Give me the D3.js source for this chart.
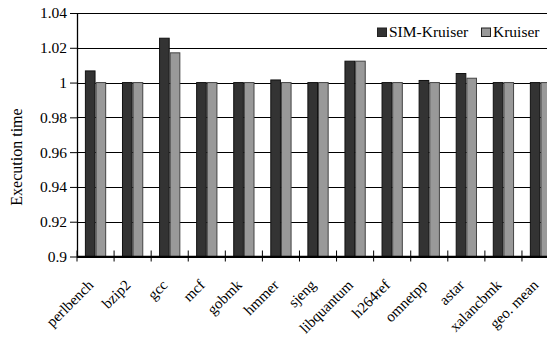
<!DOCTYPE html>
<html>
<head>
<meta charset="utf-8">
<script src="https://cdn.jsdelivr.net/npm/d3@7"></script>
<style>
  html, body { margin: 0; padding: 0; background: #fff; overflow: hidden; }
  svg { display: block; }
  text { font-family: "Liberation Serif", "Times New Roman", serif; fill: #000; }
</style>
</head>
<body>
<script>
// Benchmarks on the x axis
const categories = ["perlbench", "bzip2", "gcc", "mcf", "gobmk", "hmmer", "sjeng",
  "libquantum", "h264ref", "omnetpp", "astar", "xalancbmk", "geo. mean"];
// Normalized execution time per benchmark
const simKruiser = [1.0067, 1.0, 1.0255, 1.0, 1.0, 1.0015, 1.0, 1.0123, 1.0, 1.0012, 1.0052, 1.0, 1.0];
const kruiser    = [1.0,    1.0, 1.0171, 1.0, 1.0, 1.0,    1.0, 1.0123, 1.0, 1.0,    1.0025, 1.0, 1.0];
const seriesNames = ["SIM-Kruiser", "Kruiser"];
const seriesColors = ["#333333", "#999999"];
const yTicks = [0.9, 0.92, 0.94, 0.96, 0.98, 1, 1.02, 1.04];

const W = 547, H = 337;
const margin = { left: 77, top: 13 };
const bandW = 37.08;
const plotW = bandW * categories.length;
const plotH = 243.5;

const svg = d3.select("body").append("svg").attr("width", W).attr("height", H);
const g = svg.append("g").attr("transform", `translate(${margin.left},${margin.top})`);

const x0 = d3.scaleBand().domain(categories).range([0, plotW]).padding(0);
const x1 = d3.scaleBand().domain(seriesNames).range([7.9, bandW - 7.9]).padding(0);
const y = d3.scaleLinear().domain([0.9, 1.04]).range([plotH, 0]);

// Horizontal gridlines
g.append("g").selectAll("line").data(yTicks).join("line")
  .attr("x1", 0).attr("x2", plotW)
  .attr("y1", d => Math.round(y(d)) + 0.5).attr("y2", d => Math.round(y(d)) + 0.5)
  .attr("stroke", "#000").attr("stroke-width", 1);

// Bars
const rows = categories.map((c, i) => ({ cat: c, vals: [simKruiser[i], kruiser[i]] }));
g.append("g").selectAll("g").data(rows).join("g")
  .attr("transform", d => `translate(${x0(d.cat)},0)`)
  .selectAll("rect").data(d => d.vals.map((v, j) => ({ v, s: seriesNames[j], j })))
  .join("rect")
  .attr("x", d => x1(d.s) + 0.5)
  .attr("width", x1.bandwidth() - 1)
  .attr("y", d => y(d.v))
  .attr("height", d => y(0.9) - y(d.v))
  .attr("fill", d => seriesColors[d.j])
  .attr("stroke", d => d.j === 0 ? "#111" : "#444")
  .attr("stroke-width", 1);

// Y axis
const yAxis = g.append("g")
  .call(d3.axisLeft(y).tickValues(yTicks).tickSize(7).tickPadding(3)
    .tickFormat(d => String(+d.toFixed(2))));
yAxis.select(".domain").remove();
yAxis.selectAll(".tick line").attr("stroke", "#000");
yAxis.selectAll("text").style("font-size", "15.5px").style("font-family", "Liberation Serif, serif");
g.append("line").attr("x1", 0.5).attr("x2", 0.5).attr("y1", 0).attr("y2", plotH)
  .attr("stroke", "#000").attr("stroke-width", 1.3);

// X axis with ticks at category boundaries
const xa = g.append("g").attr("transform", `translate(0,${plotH})`);
xa.append("line").attr("x1", 0).attr("x2", plotW).attr("stroke", "#000").attr("stroke-width", 1.6);
xa.selectAll("line.tk").data(categories).join("line").attr("class", "tk")
  .attr("x1", d => x0(d)).attr("x2", d => x0(d))
  .attr("y1", -6).attr("y2", 5).attr("stroke", "#000").attr("stroke-width", 1);
xa.selectAll("text").data(categories).join("text")
  .attr("transform", d => `translate(${x0(d) + 10},${22}) rotate(-45)`)
  .attr("text-anchor", "end")
  .attr("dy", "0.7em")
  .style("font-size", "15px")
  .text(d => d);

// Y axis title
svg.append("text")
  .attr("transform", `translate(22,157) rotate(-90)`)
  .attr("text-anchor", "middle")
  .style("font-size", "16px")
  .text("Execution time");

// Legend
const legend = svg.append("g").attr("transform", "translate(377,27.5)");
const items = [{ x: 0 }, { x: 104 }];
seriesNames.forEach((s, j) => {
  const it = legend.append("g").attr("transform", `translate(${items[j].x},0)`);
  it.append("rect").attr("x", 0.5).attr("y", 0.5).attr("width", 9).attr("height", 8.5)
    .attr("fill", seriesColors[j]).attr("stroke", "#222");
  it.append("text").attr("x", 12).attr("y", 9).style("font-size", "15.5px").text(s);
});
</script>
</body>
</html>
